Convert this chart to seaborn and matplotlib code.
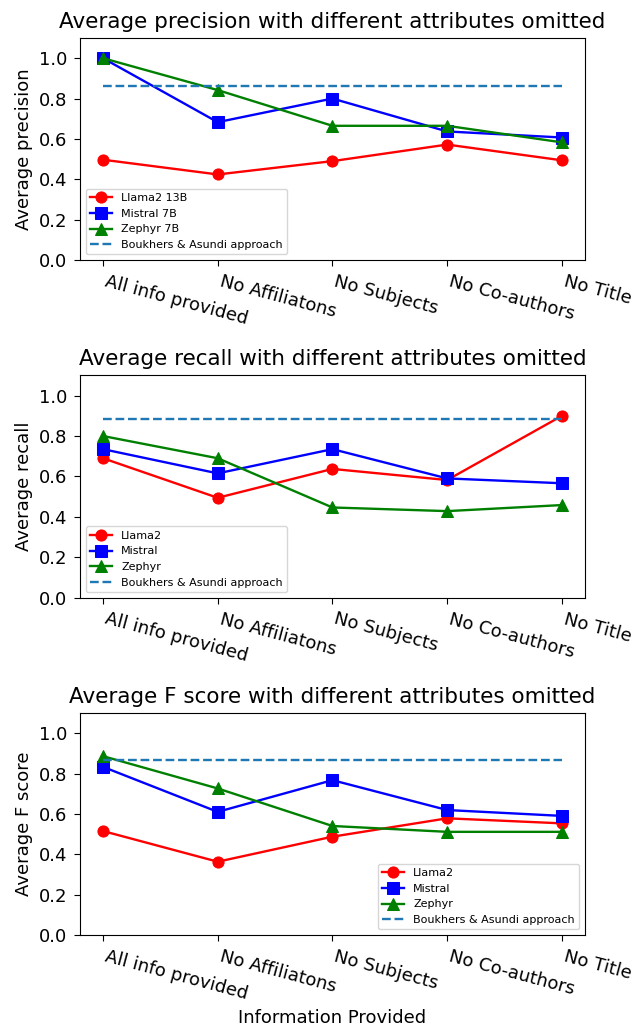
import matplotlib
matplotlib.use("Agg")
import matplotlib.pyplot as plt
import seaborn as sns

attributes = ["All info provided", "No Affiliatons", "No Subjects", "No Co-authors", "No Title"]

# precision
llama_precision = [0.497, 0.424, 0.49, 0.572, 0.494]
mistral_precision = [1.0, 0.683, 0.80, 0.637, 0.607]
zephyr_precision = [1.0, 0.842, 0.665, 0.665, 0.583]
baseline_precision = 0.862

# recall
llama_recall = [0.69, 0.494, 0.637, 0.582, 0.90]
mistral_recall = [0.735, 0.615, 0.735, 0.59, 0.566]
zephyr_recall = [0.80, 0.69, 0.446, 0.428, 0.458]
baseline_recall = 0.882

# f score
llama_f = [0.515, 0.363, 0.487, 0.578, 0.553]
mistral_f = [0.833, 0.61, 0.767, 0.619, 0.59]
zephyr_f = [0.886, 0.726, 0.54, 0.511, 0.511]
baseline_f = 0.868

panels = [
    ("Average precision with different attributes omitted", "Average precision",
     [llama_precision, mistral_precision, zephyr_precision], baseline_precision,
     ["Llama2 13B", "Mistral 7B", "Zephyr 7B"], "lower left"),
    ("Average recall with different attributes omitted", "Average recall",
     [llama_recall, mistral_recall, zephyr_recall], baseline_recall,
     ["Llama2", "Mistral", "Zephyr"], "lower left"),
    ("Average F score with different attributes omitted", "Average F score",
     [llama_f, mistral_f, zephyr_f], baseline_f,
     ["Llama2", "Mistral", "Zephyr"], "lower right"),
]

styles = [("red", "o"), ("blue", "s"), ("green", "^")]

fig, axes = plt.subplots(3, 1, figsize=(6.35, 10.27), dpi=100)
fig.subplots_adjust(left=0.126, right=0.921, top=0.963, bottom=0.0896, hspace=0.52)

for ax, (title, ylabel, series, base, names, loc) in zip(axes, panels):
    for vals, name, (c, m) in zip(series, names, styles):
        sns.lineplot(x=attributes, y=vals, ax=ax, color=c, marker=m,
                     markersize=8, markeredgecolor=c, linewidth=1.7,
                     label=name, sort=False)
    sns.lineplot(x=attributes, y=[base] * len(attributes), ax=ax,
                 color="C0", linestyle="--", linewidth=1.7,
                 label="Boukhers & Asundi approach")
    ax.set_ylim(0, 1.1)
    ax.set_title(title, fontsize=15.5, pad=7.5)
    ax.set_ylabel(ylabel, fontsize=13)
    ax.set_xlabel("")
    ax.tick_params(labelsize=13, pad=4.5, length=4.5)
    for lbl in ax.get_xticklabels():
        lbl.set_rotation(-15)
        lbl.set_ha("left")
    ax.legend(loc=loc, fontsize=8)

axes[2].set_xlabel("Information Provided", fontsize=13)

fig.savefig("out.png", dpi=100)
